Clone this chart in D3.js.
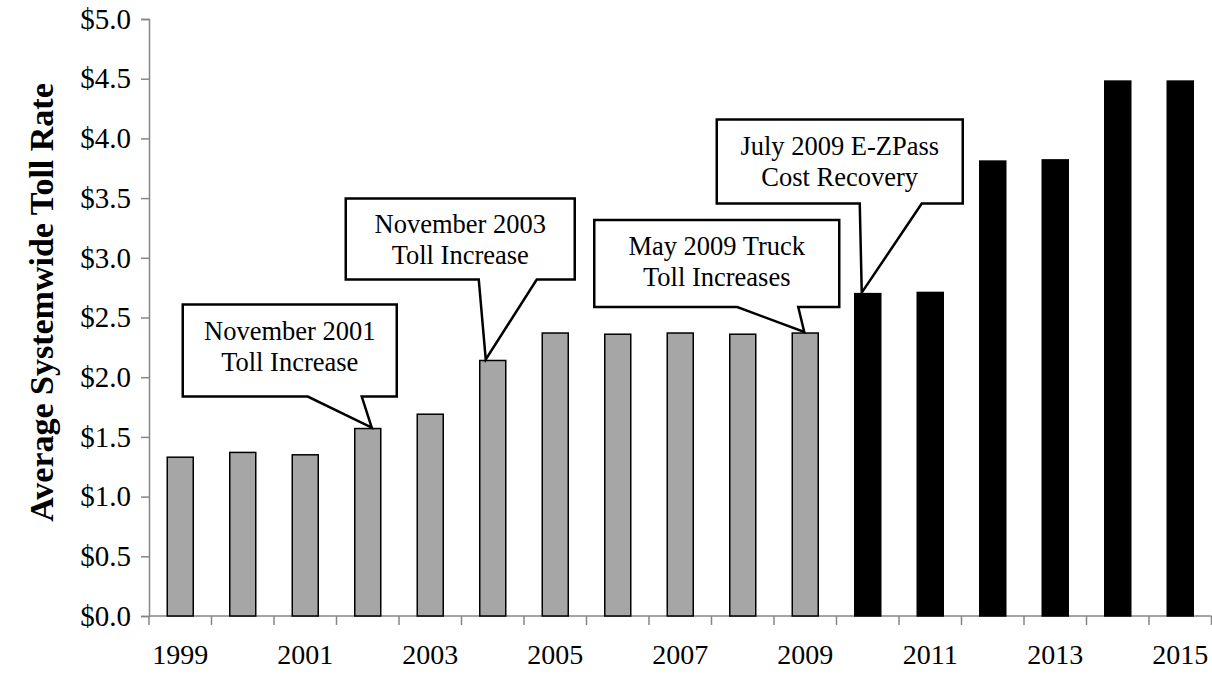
<!DOCTYPE html>
<html>
<head>
<meta charset="utf-8">
<script src="https://cdn.jsdelivr.net/npm/d3@7/dist/d3.min.js"></script>
<style>
  html, body { margin: 0; padding: 0; background: #fff; }
  svg { display: block; }
  text { font-family: "Liberation Serif", "Times New Roman", serif; fill: #000; }
</style>
</head>
<body>
<svg id="chart" width="1212" height="675"></svg>
<script>
// Fiscal years on the category axis
const years = [1999, 2000, 2001, 2002, 2003, 2004, 2005, 2006, 2007, 2008,
               2009, 2010, 2011, 2012, 2013, 2014, 2015];

// Average systemwide toll rate ($) for each year
const tollRates = [1.33, 1.37, 1.35, 1.57, 1.69, 2.14, 2.37, 2.36, 2.37, 2.36,
                   2.37, 2.70, 2.71, 3.81, 3.82, 4.48, 4.48];

// Years from which the E-ZPass cost recovery applies (drawn in black)
const recoveryYears = [2010, 2011, 2012, 2013, 2014, 2015];

// Y-axis tick values and their labels
const yTicks = [0, 0.5, 1, 1.5, 2, 2.5, 3, 3.5, 4, 4.5, 5];
const yTickLabels = ["$0.0", "$0.5", "$1.0", "$1.5", "$2.0", "$2.5",
                     "$3.0", "$3.5", "$4.0", "$4.5", "$5.0"];

// Labelled years on the x-axis
const xTickLabels = [1999, 2001, 2003, 2005, 2007, 2009, 2011, 2013, 2015];

// Toll events and the year whose bar each one points at
const eventYears = [2002, 2004, 2009, 2010];
const eventLines = [
  ["November 2001", "Toll Increase"],
  ["November 2003", "Toll Increase"],
  ["May 2009 Truck", "Toll Increases"],
  ["July 2009 E-ZPass", "Cost Recovery"]
];

const yTitle = "Average Systemwide Toll Rate";

// ---- layout ----
const plot = { left: 149, right: 1211.5, top: 19, bottom: 616 };

// Callout box placement relative to the pointer tip (pixels)
const calloutPlacement = [
  { tipDx: 4,  box: [-189, 25, -123, -31], base: [-64, -10] },
  { tipDx: -7, box: [-140, 89, -161, -80], base: [-7, 51] },
  { tipDx: -1, box: [-210, 35, -112, -25], base: [-67, -6] },
  { tipDx: -6, box: [-145, 101, -173, -89], base: [-2, 60] }
];

const svg = d3.select("#chart");

const x = d3.scaleBand()
  .domain(years)
  .range([plot.left, plot.right])
  .paddingInner(0.584)
  .paddingOuter(0.292);

const xCat = d3.scaleBand()
  .domain(years)
  .range([plot.left, plot.right]);

const y = d3.scaleLinear()
  .domain([0, 5])
  .range([plot.bottom, plot.top]);

const axisColor = "#868686";

// Y axis
const yAxis = d3.axisLeft(y)
  .tickValues(yTicks)
  .tickFormat((d, i) => yTickLabels[i])
  .tickSize(8)
  .tickPadding(10);

const gy = svg.append("g")
  .attr("transform", `translate(${plot.left},0)`)
  .call(yAxis);
gy.select(".domain").attr("stroke", axisColor).attr("stroke-width", 1.5);
gy.selectAll(".tick line").attr("stroke", axisColor).attr("stroke-width", 1.5);
gy.selectAll(".tick text")
  .attr("font-size", 29)
  .attr("font-family", "'Liberation Serif', 'Times New Roman', serif")
  .attr("fill", "#000");

// X axis: ticks on category boundaries
const boundaries = years.map(d => xCat(d)).concat([plot.right]);
const gx = svg.append("g");
gx.append("line")
  .attr("x1", plot.left).attr("x2", plot.right)
  .attr("y1", plot.bottom).attr("y2", plot.bottom)
  .attr("stroke", axisColor).attr("stroke-width", 1.5);
gx.selectAll("line.tick")
  .data(boundaries)
  .join("line")
  .attr("class", "tick")
  .attr("x1", d => d).attr("x2", d => d)
  .attr("y1", plot.bottom).attr("y2", plot.bottom + 9)
  .attr("stroke", axisColor).attr("stroke-width", 1.5);
gx.selectAll("text")
  .data(xTickLabels)
  .join("text")
  .attr("x", d => xCat(d) + xCat.bandwidth() / 2)
  .attr("y", plot.bottom + 48)
  .attr("text-anchor", "middle")
  .attr("font-size", 28)
  .text(d => d);

// Bars
const barData = years.map((yr, i) => ({ year: yr, value: tollRates[i] }));
svg.append("g")
  .selectAll("rect")
  .data(barData)
  .join("rect")
  .attr("x", d => x(d.year))
  .attr("width", x.bandwidth())
  .attr("y", d => y(d.value))
  .attr("height", d => y(0) - y(d.value))
  .attr("fill", d => recoveryYears.includes(d.year) ? "#000" : "#a6a6a6")
  .attr("stroke", "#000")
  .attr("stroke-width", 1.5);

// Callouts
const calloutG = svg.append("g");
eventYears.forEach((yr, i) => {
  const p = calloutPlacement[i];
  const v = tollRates[years.indexOf(yr)];
  const tx = x(yr) + x.bandwidth() / 2 + p.tipDx;
  const ty = y(v) - 1;
  const [l, r, t, b] = p.box.map((o, k) => (k < 2 ? tx : ty) + o);
  const [b1, b2] = p.base.map(o => tx + o);
  const path = d3.path();
  path.moveTo(l, t);
  path.lineTo(r, t);
  path.lineTo(r, b);
  path.lineTo(b2, b);
  path.lineTo(tx, ty);
  path.lineTo(b1, b);
  path.lineTo(l, b);
  path.closePath();
  calloutG.append("path")
    .attr("d", path.toString())
    .attr("fill", "#fff")
    .attr("stroke", "#000")
    .attr("stroke-width", 2.5)
    .attr("stroke-linejoin", "miter");
  eventLines[i].forEach((line, k) => {
    calloutG.append("text")
      .attr("x", (l + r) / 2)
      .attr("y", t + 35 + k * 31)
      .attr("text-anchor", "middle")
      .attr("font-size", 26.5)
      .text(line);
  });
});

// Y-axis title
svg.append("text")
  .attr("transform", `translate(53,${(plot.top + plot.bottom) / 2 - 15}) rotate(-90)`)
  .attr("text-anchor", "middle")
  .attr("font-size", 34)
  .attr("font-weight", "bold")
  .text(yTitle);
</script>
</body>
</html>
